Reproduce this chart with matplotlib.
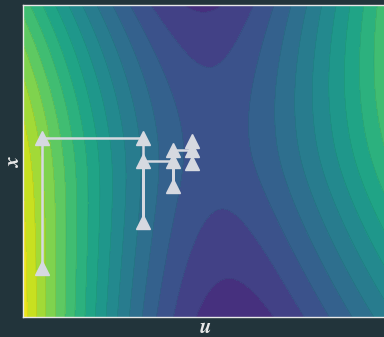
import numpy as np
import matplotlib
matplotlib.use("Agg")
import matplotlib.pyplot as plt

# path of the iterates (u, x)
path_u = [0.053, 0.053, 0.330, 0.330, 0.330, 0.413, 0.413, 0.413, 0.463, 0.463, 0.463]
path_x = [0.157, 0.574, 0.574, 0.304, 0.500, 0.500, 0.420, 0.535, 0.535, 0.494, 0.565]

# surface parameters (saddle point, curvatures, softening on each side)
u0, x0 = 0.53, 0.565
A, C = 6.25, 1.0
w_left, w_right = 0.32, 0.2
B_top, B_bot = 0.88, 1.25
v_top, v_bot = 1.0, 0.2
levels = np.arange(-0.45, 1.36, 0.1)


def soft_sq(d, w):
    # behaves like d**2 near zero, like 2*w*|d| far away
    return 2 * w ** 2 * (np.sqrt(1 + (d / w) ** 2) - 1)


plt.rcParams['mathtext.fontset'] = 'cm'
bg = '#22343b'

fig = plt.figure(figsize=(3.84, 3.37), dpi=100, facecolor=bg)
ax = fig.add_axes([23 / 384, 20 / 337, 364 / 384, 312 / 337])

uu, xx = np.meshgrid(np.linspace(0, 1, 300), np.linspace(0, 1, 300))
du, dx = uu - u0, xx - x0
fu = A * soft_sq(du, np.where(du < 0, w_left, w_right))
fx = np.where(dx > 0, B_top * soft_sq(dx, v_top), B_bot * soft_sq(dx, v_bot))
f = fu - fx + C * du * dx

ax.contourf(uu, xx, f, levels=levels, cmap='viridis')
ax.contour(uu, xx, f, levels=levels, colors='k', linewidths=0.3, alpha=0.15)

ax.plot(path_u, path_x, color='#d6d9e0', lw=1.8, marker='^', markersize=10)

ax.set_xlim(0, 1)
ax.set_ylim(0, 1)
ax.set_xticks([])
ax.set_yticks([])
for s in ax.spines.values():
    s.set_color('#e8e8e8')
    s.set_linewidth(1)
ax.set_xlabel(r'$\boldsymbol{u}$', color='#e8e8e8', fontsize=15, labelpad=0)
ax.set_ylabel(r'$\boldsymbol{x}$', color='#e8e8e8', fontsize=15, labelpad=0)

fig.savefig('out.png', dpi=100, facecolor=bg)
